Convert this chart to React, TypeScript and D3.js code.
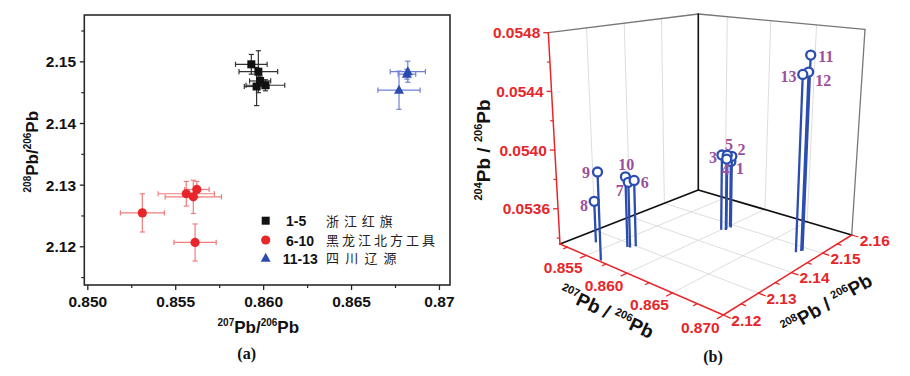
import React, { useEffect } from "react";
import * as d3 from "d3";

// ================= Panel (a) data =================
const xTicksA = [0.85, 0.855, 0.86, 0.865, 0.87];
const xTickLabelsA = ["0.850", "0.855", "0.860", "0.865", "0.87"];
const xMinorA = [0.8525, 0.8575, 0.8625, 0.8675];
const yTicksA = [2.12, 2.13, 2.14, 2.15];
const yTickLabelsA = ["2.12", "2.13", "2.14", "2.15"];
const yMinorA = [2.115, 2.125, 2.135, 2.145, 2.155];

// 1-5 浙江红旗
const zjX = [0.8593, 0.8597, 0.8598, 0.8601, 0.8596];
const zjY = [2.1496, 2.1484, 2.1469, 2.1462, 2.146];
const zjXErr = [0.0009, 0.0011, 0.0006, 0.0011, 0.0007];
const zjYErr = [0.0016, 0.0034, 0.0008, 0.0009, 0.0031];
// 6-10 黑龙江北方工具
const hlX = [0.8531, 0.8556, 0.8562, 0.856, 0.8561];
const hlY = [2.1255, 2.1286, 2.1293, 2.1281, 2.1207];
const hlXErr = [0.00125, 0.0016, 0.0007, 0.0016, 0.0012];
const hlYErr = [0.0031, 0.002, 0.0013, 0.0027, 0.003];
// 11-13 四川辽源
const scX = [0.8682, 0.86815, 0.8677];
const scY = [2.1484, 2.148, 2.1454];
const scXErr = [0.001, 0.0005, 0.0012];
const scYErr = [0.0017, 0.0008, 0.0031];

const legendCodes = ["1-5", "6-10", "11-13"];
const legendNames = ["浙江红旗", "黑龙江北方工具", "四川辽源"];

// ================= Panel (b) data =================
const pointLabels = ["1", "2", "3", "4", "5", "6", "7", "8", "9", "10", "11", "12", "13"];
const b207 = [0.86012, 0.86034, 0.85999, 0.86035, 0.86024, 0.85677, 0.85659, 0.85358, 0.85666, 0.85635, 0.86834, 0.8683, 0.86809];
const b208 = [2.14905, 2.14875, 2.14675, 2.14723, 2.14766, 2.1299, 2.1287, 2.12576, 2.12043, 2.1285, 2.14869, 2.1484, 2.14732];
const b204 = [0.05383, 0.053874, 0.053896, 0.053868, 0.05389, 0.053809, 0.053803, 0.053642, 0.05394, 0.053838, 0.05468, 0.054567, 0.054556];

const xTicksB = [0.855, 0.86, 0.865, 0.87];
const xTickLabelsB = ["0.855", "0.860", "0.865", "0.870"];
const xMinorB = [0.8525, 0.8575, 0.8625, 0.8675];
const yTicksB = [2.12, 2.13, 2.14, 2.15, 2.16];
const yTickLabelsB = ["2.12", "2.13", "2.14", "2.15", "2.16"];
const yMinorB = [2.125, 2.135, 2.145, 2.155];
const zTicksB = [0.0536, 0.054, 0.0544, 0.0548];
const zTickLabelsB = ["0.0536", "0.0540", "0.0544", "0.0548"];
const zMinorB = [0.0534, 0.0538, 0.0542, 0.0546];

// label offsets (layout) for the numbered stems, relative to the marker
const numOffsets: [number, number][] = [
  [9, 6.7], [9.7, -7], [-9, 2.4], [-1.3, 10.7], [1.7, -10.3],
  [10.7, 1.7], [-8.5, 8.3], [-10.3, 4.3], [-11.5, 0], [0.8, -12.7],
  [15.2, 1], [14.7, 8.3], [-14.3, 1.7],
];

// ================= styling =================
const SANS = "'Liberation Sans', Arial, sans-serif";
const SERIF = "'Liberation Serif', 'Times New Roman', serif";
const CJK = "'Noto Sans CJK SC', sans-serif";
const AXIS_RED = "#e8262a";
const PURPLE = "#9c4f9f";
const STEM_BLUE = "#2c4db0";

type Part = [string, boolean];
function renderParts(parts: Part[], supSize: number, shift: number) {
  let raised = false;
  return parts.map(([t, sup], i) => {
    let dy = 0;
    if (sup && !raised) { dy = -shift; raised = true; }
    else if (!sup && raised) { dy = shift; raised = false; }
    return (
      <tspan key={i} dy={dy} fontSize={sup ? supSize : undefined}>{t}</tspan>
    );
  });
}

// ================= Panel (a) =================
function PanelA() {
  const left = 84.3, right = 450, top = 15, bottom = 285;
  const x = d3.scaleLinear().domain([0.8498, 0.8706]).range([left, right]);
  const y = d3.scaleLinear().domain([2.1138, 2.1576]).range([bottom, top]);

  const series = [
    { xs: zjX, ys: zjY, xe: zjXErr, ye: zjYErr, err: "#333", fill: "#111", shape: "square" },
    { xs: hlX, ys: hlY, xe: hlXErr, ye: hlYErr, err: "#f07c7c", fill: "#e8262a", shape: "circle" },
    { xs: scX, ys: scY, xe: scXErr, ye: scYErr, err: "#6d80d6", fill: "#2b4cae", shape: "triangle" },
  ];
  const cap = 2.6;

  const marker = (shape: string, cx: number, cy: number, fill: string, key: string) => {
    if (shape === "square") return <rect key={key} x={cx - 4} y={cy - 4} width={8} height={8} fill={fill} />;
    if (shape === "circle") return <circle key={key} cx={cx} cy={cy} r={4.6} fill={fill} />;
    return <path key={key} d={`M${cx},${cy - 5.5}L${cx + 5},${cy + 3.5}L${cx - 5},${cy + 3.5}Z`} fill={fill} />;
  };

  const legendY = [220.7, 240, 258.3];
  const legendSpacing = [4.9, 3, 6.2];
  const legendCodeX = [286, 286, 282.7];

  return (
    <g>
      {xTicksA.map((t, i) => (
        <g key={"xt" + i}>
          <line x1={x(t)} x2={x(t)} y1={bottom} y2={bottom + 5} stroke="#222" strokeWidth={1.3} />
          <text x={x(t)} y={306.5} textAnchor="middle" fontFamily={SANS} fontWeight="bold" fontSize={15.5} fill="#111">{xTickLabelsA[i]}</text>
        </g>
      ))}
      {xMinorA.map((t, i) => (
        <line key={"xm" + i} x1={x(t)} x2={x(t)} y1={bottom} y2={bottom + 3} stroke="#222" strokeWidth={1.2} />
      ))}
      {yTicksA.map((t, i) => (
        <g key={"yt" + i}>
          <line x1={left - 4.5} x2={left} y1={y(t)} y2={y(t)} stroke="#222" strokeWidth={1.3} />
          <text x={76} y={y(t) + 5.5} textAnchor="end" fontFamily={SANS} fontWeight="bold" fontSize={15.5} fill="#111">{yTickLabelsA[i]}</text>
        </g>
      ))}
      {yMinorA.map((t, i) => (
        <line key={"ym" + i} x1={left - 3} x2={left} y1={y(t)} y2={y(t)} stroke="#222" strokeWidth={1.2} />
      ))}

      {series.map((s, si) => (
        <g key={"s" + si}>
          {s.xs.map((xv, i) => {
            const cx = x(xv), cy = y(s.ys[i]);
            const x0 = x(xv - s.xe[i]), x1 = x(xv + s.xe[i]);
            const y0 = y(s.ys[i] - s.ye[i]), y1 = y(s.ys[i] + s.ye[i]);
            return (
              <g key={"e" + i} stroke={s.err} strokeWidth={1.2} fill="none">
                <line x1={x0} x2={x1} y1={cy} y2={cy} />
                <line x1={x0} x2={x0} y1={cy - cap} y2={cy + cap} />
                <line x1={x1} x2={x1} y1={cy - cap} y2={cy + cap} />
                <line x1={cx} x2={cx} y1={y0} y2={y1} />
                <line x1={cx - cap} x2={cx + cap} y1={y0} y2={y0} />
                <line x1={cx - cap} x2={cx + cap} y1={y1} y2={y1} />
              </g>
            );
          })}
          {s.xs.map((xv, i) => marker(s.shape, x(xv), y(s.ys[i]), s.fill, "m" + i))}
        </g>
      ))}

      <rect x={left} y={top} width={right - left} height={bottom - top} fill="none" stroke="#2a2a2a" strokeWidth={1.6} />

      {series.map((s, i) => (
        <g key={"lg" + i}>
          {marker(s.shape, 265.7, legendY[i], s.fill, "lm" + i)}
          <text x={legendCodeX[i]} y={legendY[i] + 5.5} fontFamily={SANS} fontWeight="bold" fontSize={14} fill="#111">{legendCodes[i]}</text>
          <text x={326} y={legendY[i] + 5} fontFamily={CJK} fontSize={13} letterSpacing={legendSpacing[i]} fill="#222">{legendNames[i]}</text>
        </g>
      ))}

      <text x={258.3} y={333.3} textAnchor="middle" fontFamily={SANS} fontWeight="bold" fontSize={17} fill="#111">
        {renderParts([["207", true], ["Pb/", false], ["206", true], ["Pb", false]], 10, 7)}
      </text>
      <text transform="translate(32,151.7) rotate(-90)" x={0} y={6} textAnchor="middle" fontFamily={SANS} fontWeight="bold" fontSize={17} fill="#111">
        {renderParts([["208", true], ["Pb/", false], ["206", true], ["Pb", false]], 10, 7)}
      </text>
      <text x={246.7} y={359} textAnchor="middle" fontFamily={SERIF} fontWeight="bold" fontSize={16} fill="#111">(a)</text>
    </g>
  );
}

// ================= Panel (b) =================
const uS = d3.scaleLinear().domain([0.8515, 0.87]).range([0, 1]);
const vS = d3.scaleLinear().domain([2.12, 2.16]).range([0, 1]);
const wS = d3.scaleLinear().domain([0.05336, 0.0548]).range([0, 1]);

type Quad = { L: number[]; F: number[]; R: number[]; B: number[] };
const FLOOR: Quad = { L: [560, 244], F: [723.3, 315], R: [851.7, 235], B: [698.3, 190] };
const TOP: Quad = { L: [548.3, 32.7], F: [725, 68], R: [865, 29.3], B: [698.3, 14] };
const HW = { L: 1.22, F: 1.0, R: 1.13, B: 1.25 };

function proj2(c: Quad, u: number, v: number) {
  const bL = (1 - u) * (1 - v) * HW.L;
  const bF = u * (1 - v) * HW.F;
  const bR = u * v * HW.R;
  const bB = (1 - u) * v * HW.B;
  const s = bL + bF + bR + bB;
  return [
    (bL * c.L[0] + bF * c.F[0] + bR * c.R[0] + bB * c.B[0]) / s,
    (bL * c.L[1] + bF * c.F[1] + bR * c.R[1] + bB * c.B[1]) / s,
    s,
  ];
}
function P(u: number, v: number, w: number) {
  const a = proj2(FLOOR, u, v), b = proj2(TOP, u, v);
  return [a[0] + (b[0] - a[0]) * w, a[1] + (b[1] - a[1]) * w];
}

function Seg({ a, b, stroke, w }: { a: number[]; b: number[]; stroke: string; w: number }) {
  return <line x1={a[0]} y1={a[1]} x2={b[0]} y2={b[1]} stroke={stroke} strokeWidth={w} strokeLinecap="round" />;
}

function PanelB() {
  const grid = "#d4d4d4";
  const idx = d3.range(b207.length).sort((i, j) => {
    const di = proj2(FLOOR, uS(b207[i]), vS(b208[i]))[2];
    const dj = proj2(FLOOR, uS(b207[j]), vS(b208[j]))[2];
    return dj - di;
  });

  return (
    <g>
      {[2.13, 2.14, 2.15].map((t, i) => (
        <Seg key={"lw" + i} a={P(0, vS(t), 0)} b={P(0, vS(t), 1)} stroke={grid} w={0.8} />
      ))}
      {[0.855, 0.86, 0.865].map((t, i) => (
        <Seg key={"rw" + i} a={P(uS(t), 1, 0)} b={P(uS(t), 1, 1)} stroke={grid} w={0.8} />
      ))}
      {[0.855, 0.86, 0.865].map((t, i) => (
        <Seg key={"fx" + i} a={P(uS(t), 0, 0)} b={P(uS(t), 1, 0)} stroke={grid} w={0.8} />
      ))}
      {[2.13, 2.14, 2.15].map((t, i) => (
        <Seg key={"fy" + i} a={P(0, vS(t), 0)} b={P(1, vS(t), 0)} stroke={grid} w={0.8} />
      ))}

      <Seg a={P(0, 0, 1)} b={P(0, 1, 1)} stroke="#777" w={1.3} />
      <Seg a={P(0, 1, 1)} b={P(1, 1, 1)} stroke="#777" w={1.3} />
      <Seg a={P(1, 1, 1)} b={P(1, 1, 0)} stroke="#777" w={1.3} />
      <Seg a={P(0, 1, 0)} b={P(0, 1, 1)} stroke="#111" w={1.6} />
      <Seg a={P(0, 0, 0)} b={P(0, 1, 0)} stroke="#111" w={1.8} />
      <Seg a={P(0, 1, 0)} b={P(1, 1, 0)} stroke="#111" w={1.8} />

      <Seg a={P(0, 0, 0)} b={P(1, 0, 0)} stroke={AXIS_RED} w={1.5} />
      <Seg a={P(1, 0, 0)} b={P(1, 1, 0)} stroke={AXIS_RED} w={1.5} />
      <Seg a={P(0, 0, 0)} b={P(0, 0, 1)} stroke={AXIS_RED} w={1.5} />

      {xTicksB.map((t, i) => {
        const a = P(uS(t), 0, 0), b = P(uS(t), -0.04, 0);
        return (
          <g key={"bxt" + i}>
            <Seg a={a} b={b} stroke={AXIS_RED} w={1.3} />
            <text x={a[0] - 23} y={a[1] + 17.5} textAnchor="middle" fontFamily={SANS} fontWeight="bold" fontSize={15.5} fill={AXIS_RED}>{xTickLabelsB[i]}</text>
          </g>
        );
      })}
      {xMinorB.map((t, i) => (
        <Seg key={"bxm" + i} a={P(uS(t), 0, 0)} b={P(uS(t), -0.025, 0)} stroke={AXIS_RED} w={1.2} />
      ))}
      {yTicksB.map((t, i) => {
        const a = P(1, vS(t), 0), b = P(1.035, vS(t), 0);
        return (
          <g key={"byt" + i}>
            <Seg a={a} b={b} stroke={AXIS_RED} w={1.3} />
            <text x={a[0] + 8} y={a[1] + 10.5} textAnchor="start" fontFamily={SANS} fontWeight="bold" fontSize={15.5} fill={AXIS_RED}>{yTickLabelsB[i]}</text>
          </g>
        );
      })}
      {yMinorB.map((t, i) => (
        <Seg key={"bym" + i} a={P(1, vS(t), 0)} b={P(1.022, vS(t), 0)} stroke={AXIS_RED} w={1.2} />
      ))}
      {zTicksB.map((t, i) => {
        const a = P(0, 0, wS(t));
        return (
          <g key={"bzt" + i}>
            <line x1={a[0] - 5} x2={a[0]} y1={a[1]} y2={a[1]} stroke={AXIS_RED} strokeWidth={1.3} />
            <text x={a[0] - 8} y={a[1] + 5.5} textAnchor="end" fontFamily={SANS} fontWeight="bold" fontSize={15.5} fill={AXIS_RED}>{zTickLabelsB[i]}</text>
          </g>
        );
      })}
      {zMinorB.map((t, i) => {
        const a = P(0, 0, wS(t));
        return <line key={"bzm" + i} x1={a[0] - 3} x2={a[0]} y1={a[1]} y2={a[1]} stroke={AXIS_RED} strokeWidth={1.2} />;
      })}

      {idx.map((i) => {
        const u = uS(b207[i]), v = vS(b208[i]), w = wS(b204[i]);
        const base = P(u, v, 0), tip = P(u, v, w);
        return (
          <g key={"st" + i}>
            <line x1={base[0]} y1={base[1]} x2={tip[0]} y2={tip[1]} stroke={STEM_BLUE} strokeWidth={2.3} />
            <circle cx={tip[0]} cy={tip[1]} r={4.5} fill="#fff" stroke={STEM_BLUE} strokeWidth={2.3} />
          </g>
        );
      })}
      {b207.map((xv, i) => {
        const tip = P(uS(xv), vS(b208[i]), wS(b204[i]));
        return (
          <text key={"nl" + i} x={tip[0] + numOffsets[i][0]} y={tip[1] + numOffsets[i][1] + 5.5} textAnchor="middle" fontFamily={SERIF} fontWeight="bold" fontSize={16} fill={PURPLE}>{pointLabels[i]}</text>
        );
      })}

      <text transform="translate(483,150) rotate(-90)" x={0} y={6.6} textAnchor="middle" fontFamily={SANS} fontWeight="bold" fontSize={19} fill="#111">
        {renderParts([["204", true], ["Pb / ", false], ["206", true], ["Pb", false]], 11, 7.5)}
      </text>
      <text transform="translate(606.7,311.7) rotate(25)" x={0} y={6.6} textAnchor="middle" fontFamily={SANS} fontWeight="bold" fontSize={19} fill="#111">
        {renderParts([["207", true], ["Pb / ", false], ["206", true], ["Pb", false]], 11, 7.5)}
      </text>
      <text transform="translate(826.7,304) rotate(-30)" x={0} y={6.6} textAnchor="middle" fontFamily={SANS} fontWeight="bold" fontSize={19} fill="#111">
        {renderParts([["208", true], ["Pb / ", false], ["206", true], ["Pb", false]], 11, 7.5)}
      </text>
      <text x={713} y={362} textAnchor="middle" fontFamily={SERIF} fontWeight="bold" fontSize={16} fill="#111">(b)</text>
    </g>
  );
}

export default function App() {
  useEffect(() => {
    document.body.style.margin = "0";
  }, []);
  return (
    <svg width={910} height={376} viewBox="0 0 910 376" style={{ position: "absolute", left: 0, top: 0, background: "#fff" }}>
      <rect x={0} y={0} width={910} height={376} fill="#fff" />
      <PanelA />
      <PanelB />
    </svg>
  );
}
